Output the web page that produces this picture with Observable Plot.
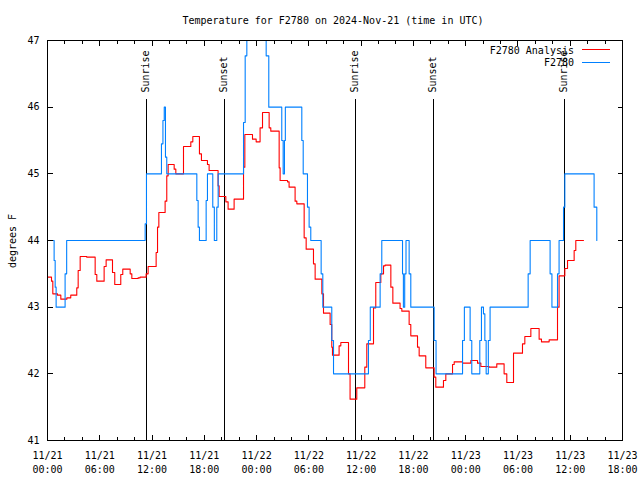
<!DOCTYPE html>
<html><head><meta charset="utf-8">
<script src="https://cdn.jsdelivr.net/npm/d3@7"></script>
<script src="https://cdn.jsdelivr.net/npm/@observablehq/plot@0.6"></script>
<style>
body{margin:0;background:#fff}
svg [aria-label="frame"], svg [aria-label="rule"], svg [aria-label$="tick"] { shape-rendering: crispEdges; }
</style>
</head><body><div id="chart"></div>
<script>
// ---- data (hours after 2024-11-21 00:00 UTC) ----
const titleText = "Temperature for F2780 on 2024-Nov-21 (time in UTC)";
const yLabel = "degrees F";
const seriesNames = ["F2780 Analysis", "F2780"];
const seriesColors = ["#ff0000", "#0080ff"];

const redHours = [0,0.46,0.61,1.15,1.53,2.22,2.67,3.36,3.52,3.75,4.51,5.47,5.66,6.50,6.73,7.46,7.72,8.41,8.64,9.49,9.68,10.40,10.63,11.32,11.55,12.47,12.63,12.78,13.50,13.69,13.85,14.54,14.73,15.61,16.45,16.68,17.44,17.67,18.36,18.55,19.58,19.70,20.47,20.73,21.42,22.50,22.65,23.53,23.95,24.40,24.68,25.44,25.63,26.59,26.70,27.55,27.73,28.42,28.62,29.46,29.69,30.53,30.72,31.49,31.68,32.44,32.63,32.71,33.47,33.67,34.55,34.73,35.50,36.42,36.65,37.42,37.68,38.26,38.57,38.75,39.41,39.64,40.47,40.67,41.51,41.70,42.47,42.66,43.42,44.38,44.57,45.45,45.72,46.49,46.68,47.64,48.59,49.36,49.74,50.69,51.57,52.41,52.72,53.49,54.52,54.79,55.48,56.43,56.70,57.58,58.54,58.72,59.38,59.69,60.45,60.64,61.52];
const redTemps = [43.45,43.39,43.20,43.18,43.12,43.14,43.18,43.29,43.55,43.76,43.75,43.49,43.39,43.61,43.71,43.52,43.34,43.49,43.57,43.50,43.43,43.44,43.45,43.50,43.61,43.82,44.20,44.42,44.59,44.97,45.14,45.07,45.00,45.41,45.48,45.56,45.30,45.20,45.14,45.05,44.82,44.66,44.58,44.47,44.62,45.10,45.59,45.52,45.48,45.69,45.92,45.69,45.64,45.09,44.90,44.88,44.80,44.59,44.55,44.04,43.87,43.65,43.42,43.20,42.91,42.74,42.40,42.28,42.42,42.47,42.00,41.62,41.79,42.10,42.45,42.99,43.37,43.50,43.62,43.63,43.30,43.06,42.98,42.94,42.74,42.57,42.40,42.27,42.09,41.95,41.80,41.90,42.00,42.14,42.18,42.16,42.20,42.16,42.11,42.10,42.15,42.00,41.87,42.31,42.45,42.56,42.68,42.52,42.48,42.51,43.00,43.47,43.58,43.70,43.85,44.00,44.00];

const blueHours = [0,0.76,0.88,0.99,2.02,2.20,11.21,11.36,13.08,13.25,13.40,13.54,13.69,17.14,17.29,17.44,18.21,18.36,18.97,19.15,19.43,19.59,22.50,22.69,22.88,25.10,25.40,26.89,27.05,27.20,27.30,29.19,29.35,29.84,30.03,30.22,31.41,31.60,32.63,32.83,36.84,37.05,38.18,38.37,40.75,40.85,41.00,41.15,41.51,41.70,44.38,44.60,47.64,47.85,48.51,48.70,49.62,49.81,50.04,50.20,50.35,50.60,50.80,55.17,55.40,57.69,57.90,58.54,58.72,59.23,59.38,62.74,63.05];
const blueTemps = [44.0,43.7,43.3,43.0,43.5,44.0,44.25,45.0,45.45,45.8,46.0,45.25,45.0,44.6,44.2,44.0,44.6,45.0,44.5,44.0,44.5,45.0,45.77,46.77,48.0,46.77,46.0,45.5,45.0,45.5,46.0,45.5,45.0,44.5,44.2,44.0,43.5,43.0,42.5,42.0,42.5,43.0,43.5,44.0,43.5,43.0,43.5,44.0,43.5,43.0,42.5,42.0,42.5,43.0,42.5,42.0,42.5,43.0,42.9,42.5,42.0,42.5,43.0,43.5,44.0,43.5,43.0,43.5,44.0,44.5,45.0,44.5,44.0];

const sunHours = [11.32, 20.27, 35.31, 44.27, 59.30];
const sunLabels = ["Sunrise", "Sunset", "Sunrise", "Sunset", "Sunrise"];

const majorTickHours = [0,6,12,18,24,30,36,42,48,54,60,66];
const yTickValues = [41,42,43,44,45,46,47];

// ---- build ----
const base = Date.UTC(2024, 10, 21);
const toDate = h => new Date(base + h * 3600e3);
const red = redHours.map((h, i) => ({t: toDate(h), v: redTemps[i]}));
const blue = blueHours.map((h, i) => ({t: toDate(h), v: blueTemps[i]}));
const suns = sunHours.map((h, i) => ({t: toDate(h), label: sunLabels[i]}));
const majorTicks = majorTickHours.map(toDate);
const minorTicks = d3.range(0, 67, 2).filter(h => h % 6 !== 0).map(toDate);
const fmt = d3.utcFormat("%m/%d\n%H:%M");
const font = "DejaVu Sans Mono";
const blank = () => "";

const plot = Plot.plot({
  width: 640, height: 480,
  marginLeft: 47, marginRight: 18, marginTop: 40, marginBottom: 40,
  style: {fontFamily: font, fontSize: "10px", background: "white", color: "black"},
  x: {type: "utc", domain: [toDate(0), toDate(66)], label: null},
  y: {domain: [41, 47], label: null},
  marks: [
    Plot.ruleX(suns, {x: "t", y1: 41, y2: 46.115, stroke: "black", strokeWidth: 1}),
    Plot.text(suns, {x: "t", y: 46.22, text: "label", rotate: -90, textAnchor: "start", fontSize: 10, fill: "black"}),
    Plot.line(red, {x: "t", y: "v", stroke: seriesColors[0], strokeWidth: 1.1, curve: "step-after", clip: true}),
    Plot.line(blue, {x: "t", y: "v", stroke: seriesColors[1], strokeWidth: 1.1, curve: "step-after", clip: true}),
    Plot.frame({stroke: "black", strokeWidth: 1}),
    Plot.axisY({anchor: "left", ticks: yTickValues, tickSize: -6, tickFormat: blank, label: null}),
    Plot.axisY({anchor: "left", ticks: yTickValues, tickSize: 0, tickPadding: 8, tickFormat: d => String(d), label: null}),
    Plot.axisY({anchor: "right", ticks: yTickValues, tickSize: -5, tickFormat: blank, label: null}),
    Plot.axisX({anchor: "bottom", ticks: majorTicks, tickSize: -5, tickFormat: blank, label: null}),
    Plot.axisX({anchor: "bottom", ticks: minorTicks, tickSize: -3, tickFormat: blank, label: null}),
    Plot.axisX({anchor: "bottom", ticks: majorTicks, tickSize: 0, tickPadding: 8, tickFormat: fmt, lineHeight: 1.45, label: null}),
    Plot.axisX({anchor: "top", ticks: majorTicks, tickSize: -5, tickFormat: blank, label: null}),
    Plot.axisX({anchor: "top", ticks: minorTicks, tickSize: -3, tickFormat: blank, label: null})
  ]
});
document.getElementById("chart").appendChild(plot);

// ---- title, y label, legend ----
const svg = d3.select(plot);
const g = svg.append("g").attr("font-family", font).attr("font-size", 10).attr("fill", "black");
g.append("text").attr("x", 333).attr("y", 24).attr("text-anchor", "middle").text(titleText);
g.append("text").attr("transform", "translate(12,241) rotate(-90)").attr("text-anchor", "middle").attr("dy", "0.35em").text(yLabel);
seriesNames.forEach((name, i) => {
  const yy = 50 + i * 12.5;
  g.append("text").attr("x", 574).attr("y", yy).attr("dy", "0.35em").attr("text-anchor", "end").text(name);
  g.append("line").attr("x1", 582).attr("x2", 610).attr("y1", yy - 0.5).attr("y2", yy - 0.5)
    .attr("stroke", seriesColors[i]).attr("stroke-width", 1).attr("shape-rendering", "crispEdges");
});
</script>
</body></html>
